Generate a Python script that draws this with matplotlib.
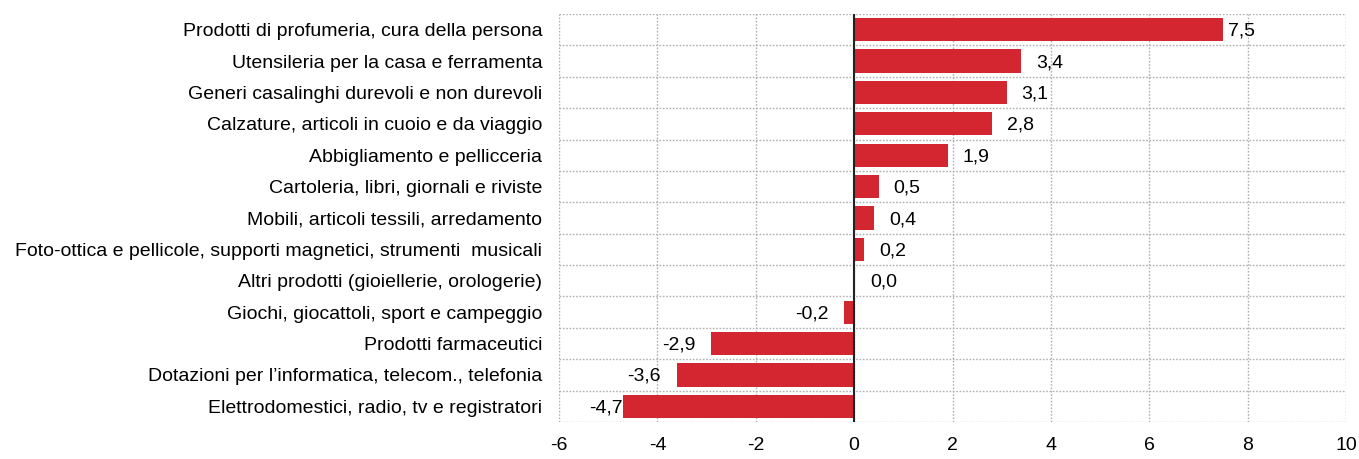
import matplotlib
matplotlib.use("Agg")
import matplotlib.pyplot as plt
from matplotlib import transforms

plt.rcParams['font.family'] = ['Liberation Sans', 'DejaVu Sans']

categories = [
    "Prodotti di profumeria, cura della persona",
    "Utensileria per la casa e ferramenta",
    "Generi casalinghi durevoli e non durevoli",
    "Calzature, articoli in cuoio e da viaggio",
    "Abbigliamento e pellicceria",
    "Cartoleria, libri, giornali e riviste",
    "Mobili, articoli tessili, arredamento",
    "Foto-ottica e pellicole, supporti magnetici, strumenti  musicali",
    "Altri prodotti (gioiellerie, orologerie)",
    "Giochi, giocattoli, sport e campeggio",
    "Prodotti farmaceutici",
    "Dotazioni per l\u2019informatica, telecom., telefonia",
    "Elettrodomestici, radio, tv e registratori",
]
values = [7.5, 3.4, 3.1, 2.8, 1.9, 0.5, 0.4, 0.2, 0.0, -0.2, -2.9, -3.6, -4.7]
value_labels = ["7,5", "3,4", "3,1", "2,8", "1,9", "0,5", "0,4", "0,2", "0,0", "-0,2", "-2,9", "-3,6", "-4,7"]
x_ticks = [-6, -4, -2, 0, 2, 4, 6, 8, 10]
x_tick_labels = ["-6", "-4", "-2", "0", "2", "4", "6", "8", "10"]

label_gap_px = [5, 15, 15, 15, 15, 15, 15, 15, 16, 16, 16, 16, 0]

FS = 14.0

fig = plt.figure(figsize=(13.59, 4.59), dpi=100)
ax = fig.add_axes([559/1359, 1-422/459, (1346-559)/1359, (422-14)/459])

n = len(categories)
ypos = list(range(n))
ax.barh(ypos, values, height=0.74, color="#D32630", zorder=3)
ax.set_ylim(n - 0.5, -0.5)
ax.set_xlim(-6, 10)

grid_kw = dict(color="#B0B0B0", linestyle=(0, (1.2, 1.2)), linewidth=1.0, zorder=1)
for b in [i - 0.5 for i in range(n + 1)]:
    ax.axhline(b, **grid_kw)
for xt in x_ticks:
    ax.axvline(xt, **grid_kw)
ax.axvline(0, color="#222222", linewidth=1.5, zorder=4)

for s in ax.spines.values():
    s.set_visible(False)

ax.set_yticks(ypos)
ax.set_yticklabels(categories, fontsize=FS)
ax.set_xticks(x_ticks)
ax.set_xticklabels(x_tick_labels, fontsize=FS)
ax.tick_params(axis='both', length=0)
ax.tick_params(axis='y', pad=12)
ax.tick_params(axis='x', pad=11)

down = transforms.ScaledTranslation(0, -1.5/100, fig.dpi_scale_trans)
for i, (v, lab, gap) in enumerate(zip(values, value_labels, label_gap_px)):
    if v >= 0:
        tr = ax.transData + transforms.ScaledTranslation(gap/100, 0, fig.dpi_scale_trans) + down
        ax.text(v, i, lab, transform=tr, ha="left", va="center", fontsize=FS, zorder=5)
    else:
        tr = ax.transData + transforms.ScaledTranslation(-gap/100, 0, fig.dpi_scale_trans) + down
        ax.text(v, i, lab, transform=tr, ha="right", va="center", fontsize=FS, zorder=5)

fig.savefig("out.png", dpi=100)
